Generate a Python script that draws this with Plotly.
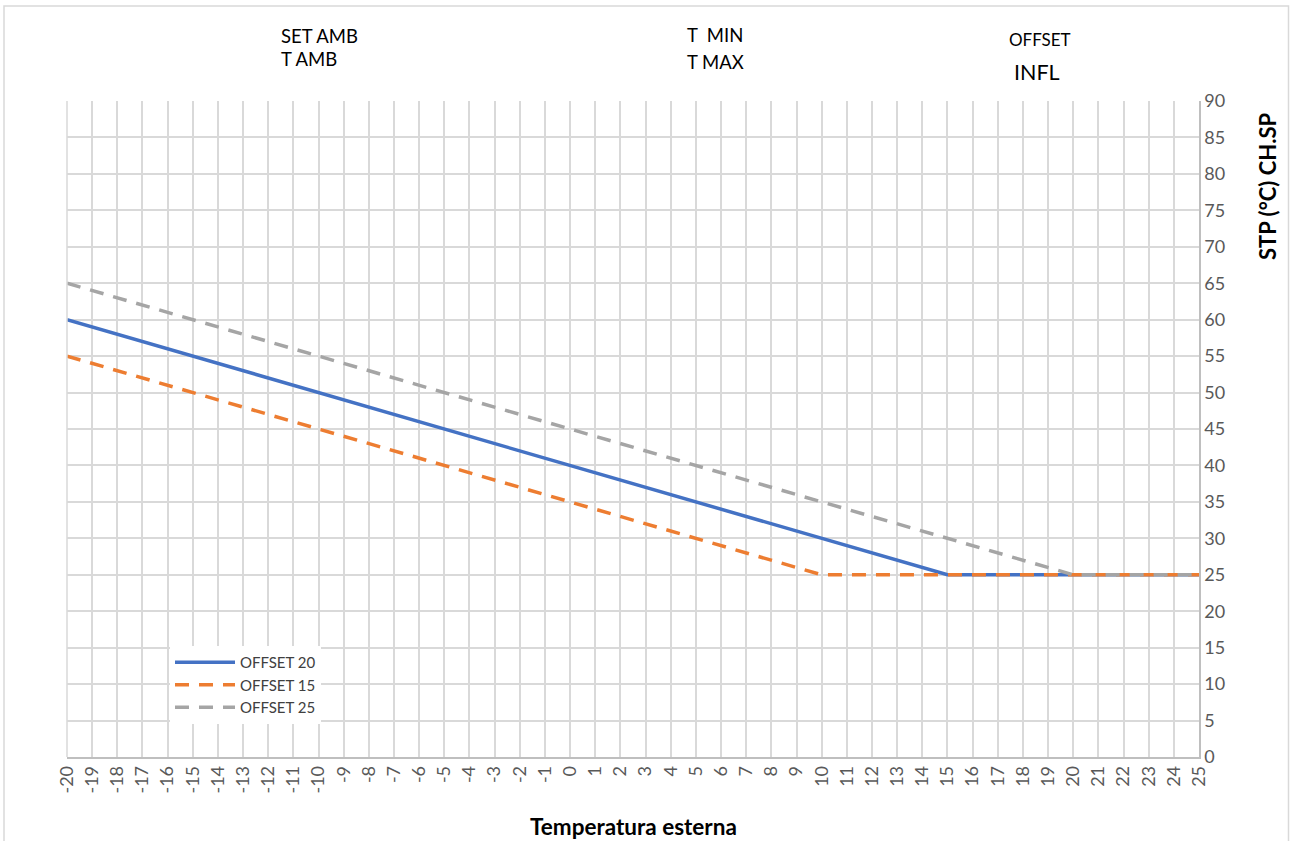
import plotly.graph_objects as go

# Data
x_temp = list(range(-20, 26))
offset20 = [60, 59, 58, 57, 56, 55, 54, 53, 52, 51, 50, 49, 48, 47, 46, 45, 44, 43, 42, 41,
            40, 39, 38, 37, 36, 35, 34, 33, 32, 31, 30, 29, 28, 27, 26, 25,
            25, 25, 25, 25, 25, 25, 25, 25, 25, 25]
offset15 = [55, 54, 53, 52, 51, 50, 49, 48, 47, 46, 45, 44, 43, 42, 41, 40, 39, 38, 37, 36,
            35, 34, 33, 32, 31, 30, 29, 28, 27, 26, 25,
            25, 25, 25, 25, 25, 25, 25, 25, 25, 25, 25, 25, 25, 25, 25]
offset25 = [65, 64, 63, 62, 61, 60, 59, 58, 57, 56, 55, 54, 53, 52, 51, 50, 49, 48, 47, 46,
            45, 44, 43, 42, 41, 40, 39, 38, 37, 36, 35, 34, 33, 32, 31, 30, 29, 28, 27, 26, 25,
            25, 25, 25, 25, 25]
y_ticks = list(range(0, 91, 5))

FONT = "Lato, 'Open Sans', sans-serif"
TICK_COLOR = "#595959"

fig = go.Figure()
fig.add_trace(go.Scatter(x=x_temp, y=offset20, mode="lines", name="OFFSET 20",
                         line=dict(color="#4472C4", width=3.5)))
fig.add_trace(go.Scatter(x=x_temp, y=offset15, mode="lines", name="OFFSET 15",
                         line=dict(color="#ED7D31", width=3.5, dash="14px,10px")))
fig.add_trace(go.Scatter(x=x_temp, y=offset25, mode="lines", name="OFFSET 25",
                         line=dict(color="#A5A5A5", width=3.5, dash="14px,10px")))

L, R, T, B = 67, 91, 101, 84
W, H = 1290, 841
pw, ph = W - L - R, H - T - B

def px_x(p):
    return (p - L) / pw

def px_y(p):
    return (H - B - p) / ph

BLACK = "#000000"

def ann(text, x, y, size, **kw):
    d = dict(text=text, x=px_x(x), y=px_y(y), xref="paper", yref="paper",
             xanchor="left", yanchor="middle", showarrow=False,
             font=dict(size=size, color=BLACK, family=FONT))
    d.update(kw)
    return d

fig.update_layout(
    width=W, height=H,
    margin=dict(l=L, r=R, t=T, b=B),
    paper_bgcolor="white", plot_bgcolor="white",
    font=dict(family=FONT, color=TICK_COLOR),
    showlegend=True,
    legend=dict(x=px_x(170), y=px_y(646), xanchor="left", yanchor="top",
                bgcolor="white", font=dict(size=15, color="#404040", family=FONT),
                tracegroupgap=0, itemwidth=60),
    xaxis=dict(range=[-20, 25], tickmode="array", tickvals=x_temp,
               ticktext=[str(v) for v in x_temp], tickangle=-90,
               tickfont=dict(size=18, color=TICK_COLOR, family=FONT),
               showgrid=True, gridcolor="#D9D9D9", gridwidth=1.5,
               showline=True, linecolor="#BFBFBF", linewidth=1.5, mirror=False,
               zeroline=False, ticks="", ticklen=0),
    yaxis=dict(range=[0, 90], side="right", tickmode="array", tickvals=y_ticks,
               tickfont=dict(size=18, color=TICK_COLOR, family=FONT),
               showgrid=True, gridcolor="#D9D9D9", gridwidth=1.5,
               showline=True, linecolor="#BFBFBF", linewidth=1.5,
               zeroline=False, ticks="", ticklen=0),
    shapes=[
        dict(type="rect", xref="paper", yref="paper",
             x0=px_x(4), x1=px_x(1288.5), y0=px_y(846), y1=px_y(6),
             line=dict(color="#D9D9D9", width=1.5), fillcolor="rgba(0,0,0,0)", layer="below"),
        dict(type="line", xref="paper", yref="paper",
             x0=0, x1=0, y0=0, y1=1, line=dict(color="#D9D9D9", width=1.5)),
    ],
    annotations=[
        ann("SET AMB", 279, 36, 18.5),
        ann("T AMB", 279, 59, 18.5),
        ann("T  MIN", 685, 35, 18.5),
        ann("T MAX", 685, 62, 18.5),
        ann("OFFSET", 1007, 40, 17),
        ann("INFL", 1012, 72, 21.5),
        ann("<b>Temperatura esterna</b>", 633, 826, 22.5, xanchor="center"),
        ann("<b>STP (°C) CH.SP</b>", 1268, 186, 22, xanchor="center", textangle=-90),
    ],
)

fig.write_html("out.html", config={"displayModeBar": False},
               post_script="document.body.style.margin='0';document.body.style.overflow='hidden';")
